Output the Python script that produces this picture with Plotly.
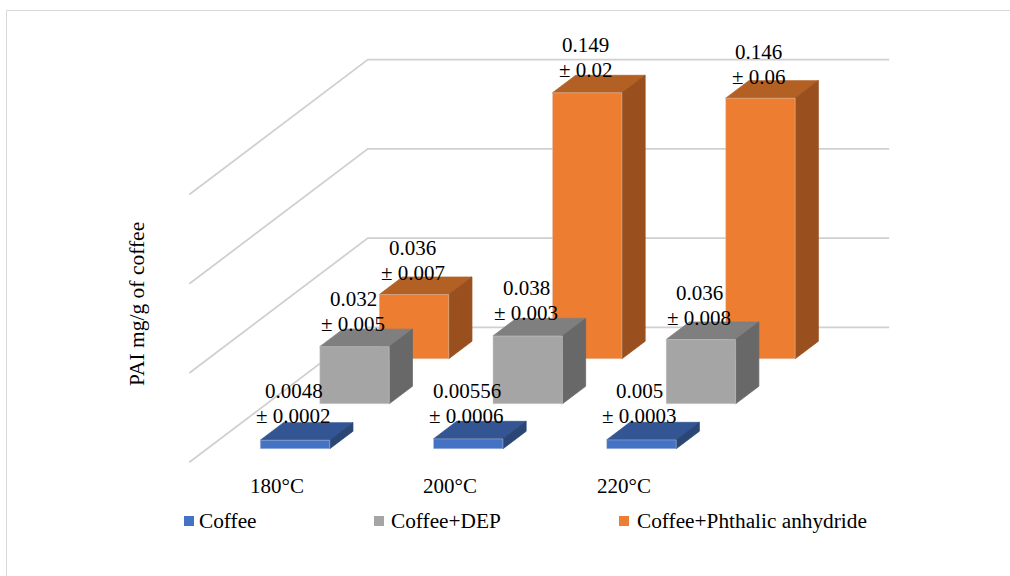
import plotly.graph_objects as go

# Measurements plotted on the chart
categories = ["180°C", "200°C", "220°C"]
series_names = ["Coffee", "Coffee+DEP", "Coffee+Phthalic anhydride"]
coffee = [0.0048, 0.00556, 0.005]
coffee_dep = [0.032, 0.038, 0.036]
coffee_pa = [0.036, 0.149, 0.146]
coffee_err = ["± 0.0002", "± 0.0006", "± 0.0003"]
coffee_dep_err = ["± 0.005", "± 0.003", "± 0.008"]
coffee_pa_err = ["± 0.007", "± 0.02", "± 0.06"]
value_ticks = [0, 0.05, 0.10, 0.15]

# Face colours per series: front, top, side
colours = [
    ("#4472C4", "#335593", "#2A4675"),
    ("#A5A5A5", "#7F7F7F", "#686868"),
    ("#ED7D31", "#B36024", "#994F1E"),
]

# Oblique projection: one series step moves right and up on the page
PX_PER_CAT = 173.2
PX_PER_VALUE = 1785.0
STEP_X = 59.5 / PX_PER_CAT
STEP_Y = 45.0 / PX_PER_VALUE
BAR_W = 69.5 / PX_PER_CAT
BAR_D = 0.39
FLOOR_FRONT, FLOOR_BACK = -0.3, 2.7
WALL_L, WALL_R = -0.507, 2.503


def project(cat, value, z):
    return cat + z * STEP_X, value + z * STEP_Y


def polygons(quads):
    xs, ys = [], []
    for quad in quads:
        for c, v, z in quad + [quad[0]]:
            px, py = project(c, v, z)
            xs.append(px)
            ys.append(py)
        xs.append(None)
        ys.append(None)
    return xs, ys


fig = go.Figure()

# Back wall and left wall gridlines
gx, gy = [], []
for tick in value_ticks:
    for c, z in [(WALL_L, FLOOR_FRONT), (WALL_L, FLOOR_BACK), (WALL_R, FLOOR_BACK)]:
        px, py = project(c, tick, z)
        gx.append(px)
        gy.append(py)
    gx.append(None)
    gy.append(None)
fig.add_trace(go.Scatter(x=gx, y=gy, mode="lines", hoverinfo="skip", showlegend=False,
                         name="gridlines", line=dict(color="#D0D0D0", width=1.8)))

all_values = [coffee, coffee_dep, coffee_pa]
# Rear series first so nearer bars cover them
for s in [2, 1, 0]:
    front, top, side = [], [], []
    for c, v in enumerate(all_values[s]):
        l, r = c - BAR_W / 2, c + BAR_W / 2
        z0, z1 = s, s + BAR_D
        front.append([(l, 0, z0), (r, 0, z0), (r, v, z0), (l, v, z0)])
        top.append([(l, v, z0), (r, v, z0), (r, v, z1), (l, v, z1)])
        side.append([(r, 0, z0), (r, 0, z1), (r, v, z1), (r, v, z0)])
    for quads, col, label, edge in [
        (top, colours[s][1], "top", colours[s][1]),
        (side, colours[s][2], "side", colours[s][2]),
        (front, colours[s][0], "front", "rgba(215,215,215,0.55)"),
    ]:
        xs, ys = polygons(quads)
        fig.add_trace(go.Scatter(x=xs, y=ys, mode="lines", fill="toself", fillcolor=col,
                                 line=dict(color=edge, width=0.75), hoverinfo="skip",
                                 showlegend=False, name=f"{series_names[s]} {label}"))

FONT = "Liberation Serif"
TEXT = dict(family=FONT, color="#000000")

# Data labels: value on one line, spread on the next, lifted above each bar top
all_errs = [coffee_err, coffee_dep_err, coffee_pa_err]
label_lift = [[49, 48, 49], [48, 48, 47], [47, 48, 46]]
for s in range(3):
    for c, v in enumerate(all_values[s]):
        px, py = project(c, v, s)
        lift = label_lift[s][c]
        for text, shift in [(f"{v:g}", lift), (all_errs[s][c], lift - 25)]:
            fig.add_annotation(x=px, y=py, text=text, showarrow=False, xanchor="center",
                               yanchor="middle", xshift=-1.5, yshift=shift,
                               font=dict(size=21, **TEXT))

# Category labels sit just below the front edge of the floor
for c, name in enumerate(categories):
    px, py = project(c, 0, FLOOR_FRONT)
    fig.add_annotation(x=px, y=py, text=name, showarrow=False, xanchor="center",
                       yanchor="middle", yshift=-24, font=dict(size=21, **TEXT))

# Axis title
fig.add_annotation(xref="paper", yref="paper", x=137 / 1010, y=1 - 304 / 576,
                   text="PAI mg/g of coffee", textangle=-90, showarrow=False,
                   xanchor="center", yanchor="middle", font=dict(size=21.5, **TEXT))

# Legend row
legend_x = [184, 374, 619]
legend_text_x = [197, 389, 635]
for s, name in enumerate(series_names):
    fig.add_shape(type="rect", xref="paper", yref="paper",
                  x0=legend_x[s] / 1010, x1=(legend_x[s] + 10) / 1010,
                  y0=1 - 526 / 576, y1=1 - 516 / 576,
                  fillcolor=colours[s][0], line_width=0)
    fig.add_annotation(xref="paper", yref="paper", x=legend_text_x[s] / 1010,
                       y=1 - 521 / 576, text=name, showarrow=False, xanchor="left",
                       yanchor="middle", font=dict(size=21.3, **TEXT))

# Chart frame: only the top and left edges are visible
fig.add_shape(type="line", xref="paper", yref="paper", x0=6.5 / 1010, x1=1,
              y0=1 - 10.5 / 576, y1=1 - 10.5 / 576, line=dict(color="#D9D9D9", width=1))
fig.add_shape(type="line", xref="paper", yref="paper", x0=6.5 / 1010, x1=6.5 / 1010,
              y0=0, y1=1 - 10.5 / 576, line=dict(color="#D9D9D9", width=1))

fig.update_layout(
    width=1010, height=576, autosize=False,
    margin=dict(l=0, r=0, t=0, b=0),
    paper_bgcolor="white", plot_bgcolor="white", showlegend=False,
    xaxis=dict(range=[-295.0 / PX_PER_CAT, (1010 - 295.0) / PX_PER_CAT], visible=False,
               fixedrange=True),
    yaxis=dict(range=[(448.8 - 576) / PX_PER_VALUE, 448.8 / PX_PER_VALUE], visible=False,
               fixedrange=True),
)

fig.write_html("out.html")
